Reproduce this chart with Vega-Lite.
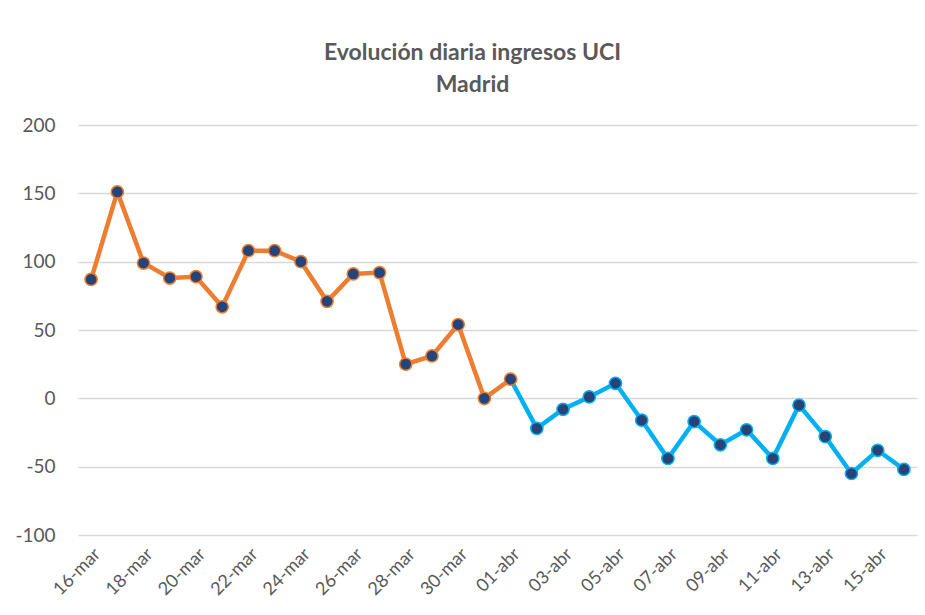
{
  "$schema": "https://vega.github.io/schema/vega-lite/v6.json",
  "width": 839,
  "height": 410,
  "autosize": {"type": "none"},
  "padding": {"left": 78, "top": 125, "right": 8, "bottom": 80},
  "background": "white",
  "config": {
    "font": "Lato",
    "view": {"stroke": null}
  },
  "title": {
    "text": ["Evolución diaria ingresos UCI", "Madrid"],
    "fontSize": 23,
    "fontWeight": "bold",
    "color": "#595959",
    "anchor": "middle",
    "frame": "group",
    "dx": -25,
    "offset": 19,
    "lineHeight": 32
  },
  "data": {
    "values": [
      {"date": "16-mar", "value": 87, "series": "a"},
      {"date": "17-mar", "value": 151, "series": "a"},
      {"date": "18-mar", "value": 99, "series": "a"},
      {"date": "19-mar", "value": 88, "series": "a"},
      {"date": "20-mar", "value": 89, "series": "a"},
      {"date": "21-mar", "value": 67, "series": "a"},
      {"date": "22-mar", "value": 108, "series": "a"},
      {"date": "23-mar", "value": 108, "series": "a"},
      {"date": "24-mar", "value": 100, "series": "a"},
      {"date": "25-mar", "value": 71, "series": "a"},
      {"date": "26-mar", "value": 91, "series": "a"},
      {"date": "27-mar", "value": 92, "series": "a"},
      {"date": "28-mar", "value": 25, "series": "a"},
      {"date": "29-mar", "value": 31, "series": "a"},
      {"date": "30-mar", "value": 54, "series": "a"},
      {"date": "31-mar", "value": 0, "series": "a"},
      {"date": "01-abr", "value": 14, "series": "a"},
      {"date": "01-abr", "value": 14, "series": "b"},
      {"date": "02-abr", "value": -22, "series": "b"},
      {"date": "03-abr", "value": -8, "series": "b"},
      {"date": "04-abr", "value": 1, "series": "b"},
      {"date": "05-abr", "value": 11, "series": "b"},
      {"date": "06-abr", "value": -16, "series": "b"},
      {"date": "07-abr", "value": -44, "series": "b"},
      {"date": "08-abr", "value": -17, "series": "b"},
      {"date": "09-abr", "value": -34, "series": "b"},
      {"date": "10-abr", "value": -23, "series": "b"},
      {"date": "11-abr", "value": -44, "series": "b"},
      {"date": "12-abr", "value": -5, "series": "b"},
      {"date": "13-abr", "value": -28, "series": "b"},
      {"date": "14-abr", "value": -55, "series": "b"},
      {"date": "15-abr", "value": -38, "series": "b"},
      {"date": "16-abr", "value": -52, "series": "b"}
    ]
  },
  "encoding": {
    "x": {
      "field": "date",
      "type": "ordinal",
      "sort": null,
      "scale": {"type": "point", "padding": 0.5},
      "axis": {
        "title": null,
        "domain": false,
        "ticks": false,
        "labelAngle": -45,
        "labelFontSize": 18,
        "labelColor": "#595959",
        "labelPadding": 10,
        "labelOverlap": false,
        "values": ["16-mar", "18-mar", "20-mar", "22-mar", "24-mar", "26-mar", "28-mar", "30-mar", "01-abr", "03-abr", "05-abr", "07-abr", "09-abr", "11-abr", "13-abr", "15-abr"]
      }
    },
    "y": {
      "field": "value",
      "type": "quantitative",
      "scale": {"domain": [-100, 200], "nice": false},
      "axis": {
        "title": null,
        "values": [-100, -50, 0, 50, 100, 150, 200],
        "labelExpr": "'' + datum.value",
        "domain": false,
        "ticks": false,
        "labelFontSize": 19,
        "labelColor": "#595959",
        "labelPadding": 23,
        "gridColor": "#d9d9d9",
        "gridWidth": 1.5
      }
    },
    "color": {
      "field": "series",
      "type": "nominal",
      "scale": {"domain": ["a", "b"], "range": ["#ED7D31", "#00B0F0"]},
      "legend": null
    }
  },
  "layer": [
    {
      "mark": {"type": "line", "strokeWidth": 4.5},
      "encoding": {"detail": {"field": "series"}}
    },
    {
      "transform": [{"filter": "!(datum.series == 'b' && datum.date == '01-abr')"}],
      "mark": {"type": "point", "filled": true, "size": 150, "fill": "#264478", "strokeWidth": 1.5, "opacity": 1},
      "encoding": {
        "stroke": {
          "field": "series",
          "type": "nominal",
          "scale": {"domain": ["a", "b"], "range": ["#ED7D31", "#00B0F0"]},
          "legend": null
        },
        "color": {"value": "#264478"}
      }
    }
  ]
}
